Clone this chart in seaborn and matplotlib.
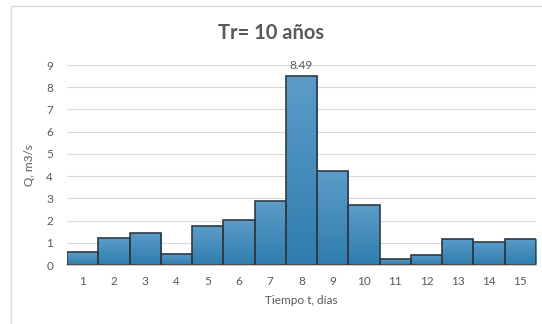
import numpy as np
import pandas as pd
import seaborn as sns
import matplotlib.pyplot as plt
from matplotlib.patches import Rectangle
from matplotlib.colors import LinearSegmentedColormap

dias = [1, 2, 3, 4, 5, 6, 7, 8, 9, 10, 11, 12, 13, 14, 15]
caudal = [0.57, 1.20, 1.46, 0.50, 1.74, 2.01, 2.86, 8.49, 4.23, 2.69, 0.27, 0.47, 1.19, 1.02, 1.19]
y_ticks = [0, 1, 2, 3, 4, 5, 6, 7, 8, 9]

df = pd.DataFrame({'Dia': dias, 'Q': caudal})

sns.set_style('white')
plt.rcParams['font.family'] = ['Lato', 'DejaVu Sans']
gris = '#595959'

fig = plt.figure(figsize=(5.42, 3.24), dpi=100)
ax = fig.add_axes([67/542, 1-265/324, (536-67)/542, (265-65)/324])

# chart frame
fig.patches.append(Rectangle((11/542, -0.1), 1.2, 1-6/324+0.1, transform=fig.transFigure,
                             fill=False, edgecolor='#D9D9D9', linewidth=1))

sns.barplot(data=df, x='Dia', y='Q', color='#3A88B9', width=1.0, saturation=1,
            edgecolor='#2F3B46', linewidth=1.2, ax=ax, zorder=3)

# vertical gradient inside each bar (lighter at top, like Excel)
cmap = LinearSegmentedColormap.from_list('azul', ['#2F7DAE', '#5C9CC8'])
grad = np.linspace(0, 1, 100).reshape(-1, 1)
for p in ax.patches:
    x0, y0 = p.get_x(), p.get_y()
    w, h = p.get_width(), p.get_height()
    im = ax.imshow(grad, cmap=cmap, origin='lower', aspect='auto',
                   extent=[x0, x0 + w, y0, y0 + h], zorder=2.5)
    im.set_clip_path(p)
    p.set_facecolor('none')

ax.set_ylim(0, 9)
ax.set_yticks(y_ticks)
ax.set_xlim(-0.5, len(dias) - 0.5)
ax.yaxis.grid(True, color='#D9D9D9', linewidth=0.8, zorder=0)
ax.set_axisbelow(True)
for s in ['top', 'right', 'left']:
    ax.spines[s].set_visible(False)
ax.spines['bottom'].set_color('#BFBFBF')
ax.spines['bottom'].set_linewidth(1.2)
ax.tick_params(axis='both', length=0, labelsize=8.5, labelcolor=gris)
ax.tick_params(axis='x', pad=8)
ax.tick_params(axis='y', pad=10)

# label of the peak
i_max = int(np.argmax(caudal))
ax.text(i_max, caudal[i_max] + 0.25, f'{caudal[i_max]:.2f}', ha='center', va='bottom',
        fontsize=8.5, color=gris)

ax.set_xlabel('Tiempo t, días', fontsize=8.5, color=gris, labelpad=6)
ax.set_ylabel('Q, m3/s', fontsize=8.5, color=gris, labelpad=8)
fig.text(271/542, 1-33/324, 'Tr= 10 años', ha='center', va='center',
         fontsize=14.5, fontweight='bold', color=gris)

fig.savefig('out.png', dpi=100)
